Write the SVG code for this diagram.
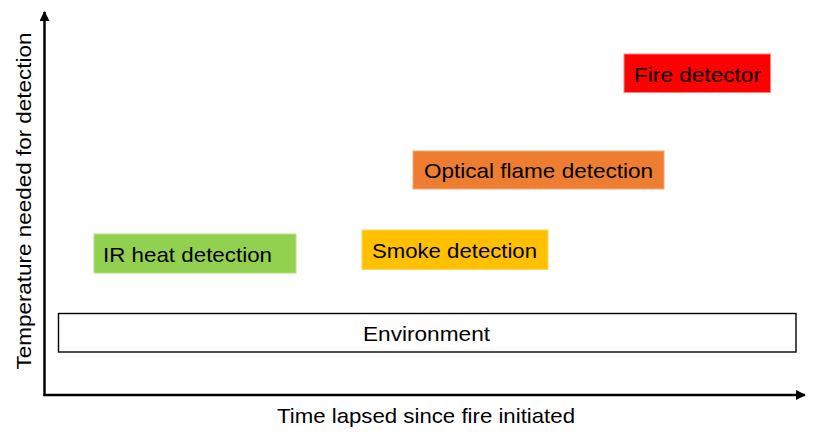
<svg xmlns="http://www.w3.org/2000/svg" width="814" height="446" viewBox="0 0 814 446">
  <style>
    text { font-family: "Liberation Sans", Arial, sans-serif; fill: #000; }
    .lbl { font-size: 21px; }
    .axis { stroke: #000; stroke-width: 2.5; fill: none; }
    .box { stroke-width: 1; }
  </style>
  <defs>
    <marker id="arr" viewBox="0 0 10 10" refX="9" refY="5" markerWidth="4" markerHeight="4" orient="auto" markerUnits="strokeWidth">
      <path d="M0,0 L10,5 L0,10 Z" fill="#000"/>
    </marker>
  </defs>
  <rect width="814" height="446" fill="#fff"/>

  <g id="connectors">
    <path class="axis" d="M44.5,396 L44.5,12" marker-end="url(#arr)"/>
    <path class="axis" d="M43.5,395 L805,395" marker-end="url(#arr)"/>
  </g>

  <g id="axis-labels">
    <text class="lbl" x="426" y="423" text-anchor="middle" textLength="298" lengthAdjust="spacingAndGlyphs">Time lapsed since fire initiated</text>
    <text class="lbl" transform="translate(31,201) rotate(-90)" text-anchor="middle" textLength="337" lengthAdjust="spacingAndGlyphs">Temperature needed for detection</text>
  </g>

  <g id="environment">
    <rect x="58.5" y="313.5" width="737.5" height="38.5" fill="#fff" stroke="#000" stroke-width="1.4"/>
    <text class="lbl" x="426.5" y="341" text-anchor="middle" textLength="127" lengthAdjust="spacingAndGlyphs">Environment</text>
  </g>

  <g id="ir-heat">
    <rect class="box" x="94" y="234" width="202" height="39" fill="#92D050" stroke="#B5E08A"/>
    <text class="lbl" x="103" y="262" textLength="169" lengthAdjust="spacingAndGlyphs">IR heat detection</text>
  </g>

  <g id="smoke">
    <rect class="box" x="362" y="230" width="186" height="39.5" fill="#FFC000" stroke="#FFD566"/>
    <text class="lbl" x="372" y="258" textLength="165" lengthAdjust="spacingAndGlyphs">Smoke detection</text>
  </g>

  <g id="optical">
    <rect class="box" x="413" y="151" width="251" height="38" fill="#ED7D31" stroke="#F3A87A"/>
    <text class="lbl" x="424" y="178" textLength="229" lengthAdjust="spacingAndGlyphs">Optical flame detection</text>
  </g>

  <g id="fire">
    <rect class="box" x="624" y="54" width="146.5" height="38.5" fill="#FF0000" stroke="#FF8080"/>
    <text class="lbl" x="634" y="82" textLength="127" lengthAdjust="spacingAndGlyphs">Fire detector</text>
  </g>
</svg>
